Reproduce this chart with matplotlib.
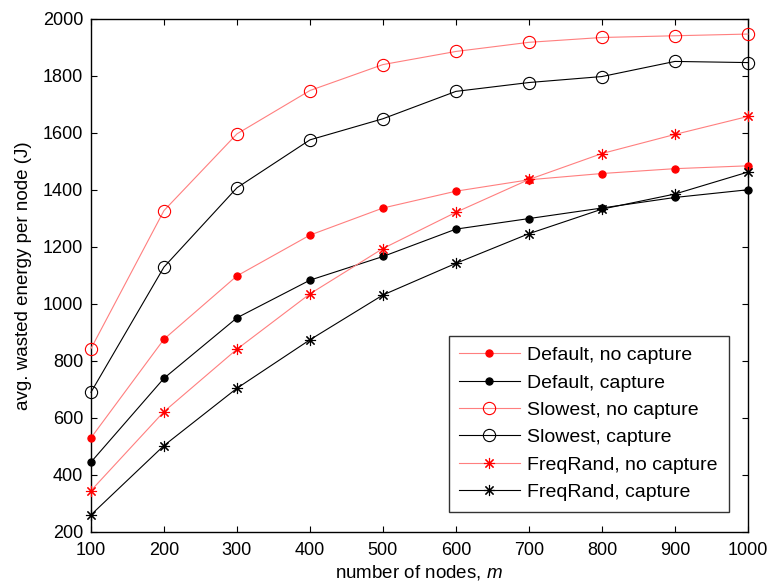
import numpy as np
import matplotlib.pyplot as plt

plt.rcParams['font.family'] = ['Liberation Sans', 'DejaVu Sans']
plt.rcParams['mathtext.fontset'] = 'custom'
plt.rcParams['mathtext.it'] = 'Liberation Sans:italic'
plt.rcParams['mathtext.rm'] = 'Liberation Sans'

nodes = [100, 200, 300, 400, 500, 600, 700, 800, 900, 1000]

default_nocap = [530, 876, 1098, 1241, 1336, 1395, 1435, 1457, 1474, 1484]
default_cap = [445, 739, 951, 1083, 1166, 1262, 1299, 1336, 1373, 1400]
slowest_nocap = [843, 1327, 1596, 1748, 1839, 1885, 1917, 1934, 1940, 1946]
slowest_cap = [690, 1129, 1407, 1575, 1649, 1745, 1776, 1797, 1850, 1846]
freqrand_nocap = [345, 622, 841, 1035, 1194, 1321, 1436, 1527, 1594, 1657]
freqrand_cap = [260, 503, 704, 874, 1031, 1142, 1246, 1332, 1385, 1462]

labels = ['Default, no capture', 'Default, capture', 'Slowest, no capture',
          'Slowest, capture', 'FreqRand, no capture', 'FreqRand, capture']

red_line = '#ff7f7f'
asterisk = (8, 2, 0)

fig = plt.figure(figsize=(7.71, 5.83), dpi=100)
ax = fig.add_axes([0.118, 0.0875, 0.852, 0.8805])

series = [
    (default_nocap, red_line, 'red', 'o', 'red', 5.2),
    (default_cap, 'black', 'black', 'o', 'black', 5.2),
    (slowest_nocap, red_line, 'red', 'o', 'none', 8.8),
    (slowest_cap, 'black', 'black', 'o', 'none', 8.8),
    (freqrand_nocap, red_line, 'red', asterisk, 'red', 8),
    (freqrand_cap, 'black', 'black', asterisk, 'black', 8),
]

handles = []
for (vals, lc, mc, mk, mfc, ms), lab in zip(series, labels):
    h, = ax.plot(nodes, vals, color=lc, lw=0.8, marker=mk, markersize=ms,
                 markeredgecolor=mc, markerfacecolor=mfc, markeredgewidth=0.8,
                 label=lab, clip_on=False, zorder=3)
    handles.append(h)

ax.set_xlim(100, 1000)
ax.set_ylim(200, 2000)
ax.set_xticks(nodes)
ax.set_yticks(np.arange(200, 2001, 200))
ax.tick_params(direction='in', top=True, right=True, labelsize=13, length=4, width=0.8)
ax.tick_params(axis='x', pad=7)
ax.tick_params(axis='y', pad=5.5)
for s in ax.spines.values():
    s.set_linewidth(1.0)

ax.set_xlabel('number of nodes, $m$', fontsize=13.5, labelpad=3)
ax.set_ylabel('avg. wasted energy per node (J)', fontsize=13.5, labelpad=8)

leg = ax.legend(handles=handles, loc='lower right', bbox_to_anchor=(0.9706, 0.0396),
                borderaxespad=0, fontsize=14, frameon=True, fancybox=False,
                edgecolor='black', handlelength=3.1, labelspacing=0.5,
                borderpad=0.55, handletextpad=0.4)
leg.get_frame().set_linewidth(1.0)

fig.savefig('out.png', dpi=100)
